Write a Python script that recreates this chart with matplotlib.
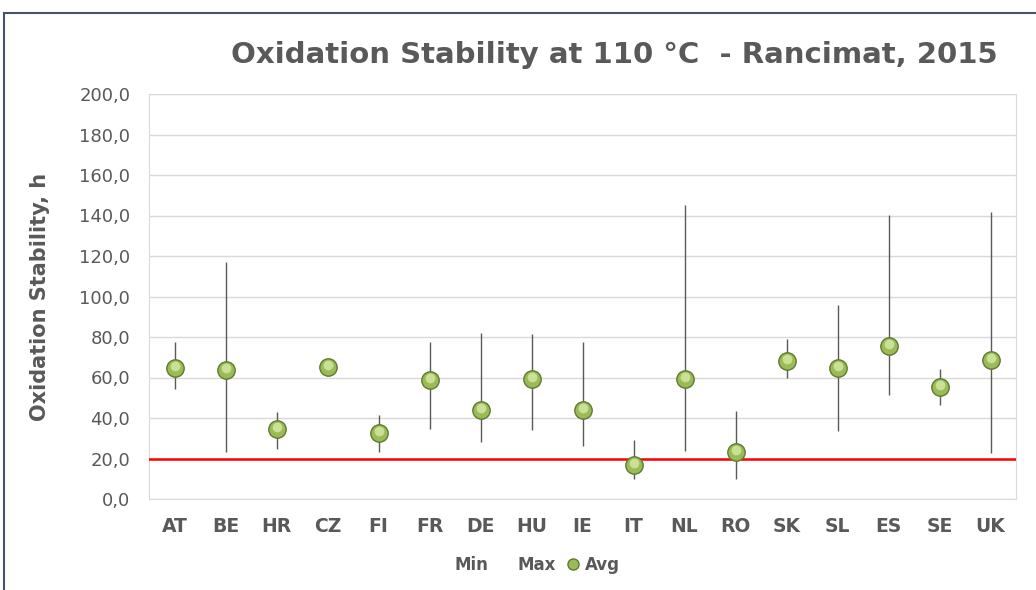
import matplotlib.pyplot as plt
from matplotlib.lines import Line2D
from matplotlib.patches import Rectangle
from matplotlib.transforms import offset_copy

plt.rcParams['font.family'] = ['DejaVu Sans']

countries = ["AT", "BE", "HR", "CZ", "FI", "FR", "DE", "HU", "IE",
             "IT", "NL", "RO", "SK", "SL", "ES", "SE", "UK"]
min_vals = [54.2, 23.4, 24.5, 65.0, 23.0, 34.7, 28.3, 34.2, 26.0,
            9.7, 23.9, 9.7, 59.8, 33.7, 51.5, 46.6, 22.5]
max_vals = [77.7, 117.0, 42.8, 65.0, 41.3, 77.7, 81.8, 81.3, 77.4,
            29.1, 145.2, 43.3, 78.9, 96.0, 140.1, 64.0, 141.6]
avg_vals = [64.5, 63.7, 34.6, 65.0, 32.4, 58.8, 44.0, 59.3, 44.0,
            16.8, 59.1, 23.4, 68.1, 64.5, 75.6, 55.2, 68.6]
limit = 20.0
yticks = [0, 20, 40, 60, 80, 100, 120, 140, 160, 180, 200]

grey = "#595959"

fig = plt.figure(figsize=(10.36, 5.9), dpi=100)
ax = fig.add_axes([149 / 1036, 1 - 499 / 590, 867 / 1036, 405 / 590])

# outer frame of the chart object
fig.patches.append(Rectangle((4 / 1036, -0.05), 1.2, 1 - 13 / 590 + 0.05,
                             transform=fig.transFigure, fill=False,
                             edgecolor="#44546a", linewidth=1.5))

x = list(range(len(countries)))

ax.vlines(x, min_vals, max_vals, color=grey, linewidth=1, zorder=2)
ax.axhline(limit, color="#ff0000", linewidth=1.8, zorder=3)

# ball-like markers
ax.plot(x, avg_vals, linestyle="none", marker="o", markersize=12.5,
        markerfacecolor="#9bbb59", markeredgecolor="#5f7a2e",
        markeredgewidth=1.0, zorder=4)
hl = offset_copy(ax.transData, fig=fig, x=0, y=2, units="dots")
ax.plot(x, avg_vals, linestyle="none", marker="o", markersize=7,
        markerfacecolor="#c8e194", markeredgewidth=0, transform=hl,
        zorder=5)

ax.set_xlim(-0.5, len(countries) - 0.5)
ax.set_ylim(0, 200)
ax.set_yticks(yticks)
ax.set_yticklabels([f"{v:.1f}".replace(".", ",") for v in yticks])
ax.set_xticks(x)
ax.set_xticklabels(countries, fontweight="bold")
ax.tick_params(length=0, colors=grey)
ax.tick_params(axis="x", pad=13, labelsize=13.5)
ax.tick_params(axis="y", pad=13.5, labelsize=13)

ax.grid(axis="y", color="#d9d9d9", linewidth=1)
ax.set_axisbelow(True)
for s in ax.spines.values():
    s.set_color("#d9d9d9")

fig.text(40 / 1036, 1 - 297 / 590, "Oxidation Stability, h", rotation=90,
         ha="center", va="center", fontsize=15, fontweight="bold", color=grey)
fig.text(614 / 1036, 1 - 63 / 590, "Oxidation Stability at 110 °C  - Rancimat, 2015",
         ha="center", va="baseline", fontsize=21, fontweight="bold", color=grey)

handles = [
    Line2D([], [], linestyle="none"),
    Line2D([], [], linestyle="none"),
    Line2D([], [], linestyle="none", marker="o", markersize=8,
           markerfacecolor="#9bbb59", markeredgecolor="#5f7a2e"),
]
leg = fig.legend(handles, ["Min", "Max", "Avg"], loc="center",
                 bbox_to_anchor=(528 / 1036, 1 - 565 / 590), ncol=3,
                 frameon=False, handlelength=0.8, handletextpad=0.3,
                 columnspacing=0.66, borderpad=0,
                 prop={"weight": "bold", "size": 12})
for t in leg.get_texts():
    t.set_color(grey)

fig.savefig("out.png", dpi=100)
